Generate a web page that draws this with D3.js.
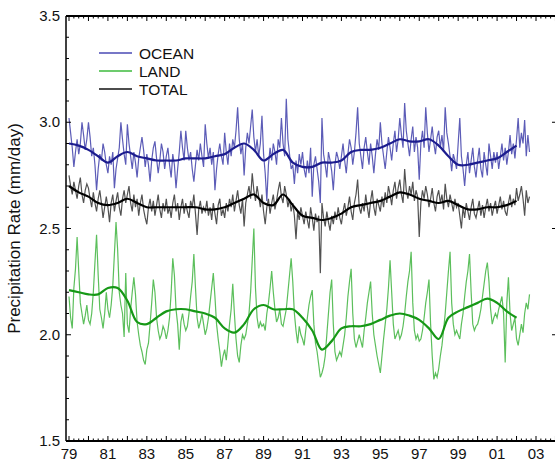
<!DOCTYPE html>
<html>
<head>
<meta charset="utf-8">
<script src="https://cdn.jsdelivr.net/npm/d3@7"></script>
<style>
  body { margin: 0; background: #fff; }
  text { font-family: "Liberation Sans", Arial, sans-serif; }
</style>
</head>
<body>
<svg id="chart" width="555" height="461"></svg>
<script>
// Monthly values, Jan 1979 .. Sep 2002 (mm/day)
const ocean = [
  3.02, 2.95, 2.88, 2.79, 2.86, 2.92, 2.85, 2.90, 3.00, 2.94, 2.87, 2.92,
  3.00, 2.93, 2.84, 2.88, 2.80, 2.68, 2.78, 2.85, 2.82, 2.90, 2.86, 2.80,
  2.76, 2.84, 2.80, 2.86, 2.69, 2.78, 2.83, 2.88, 3.00, 2.92, 2.85, 2.80,
  2.99, 2.90, 2.84, 2.78, 2.86, 2.81, 2.74, 2.83, 2.88, 2.93, 2.87, 2.79,
  2.85, 2.80, 2.72, 2.82, 2.88, 2.91, 2.83, 2.76, 2.82, 2.90, 2.86, 2.78,
  2.84, 2.88, 2.80, 2.74, 2.85, 2.80, 2.69, 2.78, 2.86, 2.96, 2.88, 2.82,
  2.96, 2.88, 2.82, 2.86, 2.78, 2.72, 2.80, 2.87, 2.82, 2.90, 2.84, 2.79,
  2.99, 2.90, 2.83, 2.88, 2.80, 2.86, 2.68, 2.78, 2.85, 2.90, 2.84, 2.80,
  2.95, 2.86, 2.80, 2.90, 2.84, 2.92, 2.88, 2.96, 3.07, 2.92, 2.85, 2.90,
  2.75, 2.88, 2.95, 2.90, 2.98, 3.06, 2.93, 2.86, 2.92, 2.84, 2.90, 3.03,
  2.85, 2.76, 2.63, 2.80, 2.88, 2.82, 2.90, 2.86, 2.80, 2.92, 2.88, 3.02,
  2.90, 2.84, 3.11, 2.92, 2.85, 2.78, 2.80, 2.71, 2.82, 2.76, 2.85, 2.80,
  2.86, 2.78, 2.74, 2.82, 2.76, 2.88, 2.65, 2.80, 2.84, 2.78, 2.72, 2.62,
  3.02, 2.85, 2.80, 2.74, 2.86, 2.82, 2.77, 2.68, 2.80, 2.86, 2.83, 2.78,
  2.84, 2.90, 2.82, 2.76, 2.85, 2.92, 2.88, 2.80, 2.86, 2.95, 3.07, 2.90,
  2.84, 2.78, 2.88, 2.93, 2.86, 2.80, 2.90, 2.84, 2.76, 2.85, 2.92, 2.87,
  3.00, 2.90, 2.84, 2.78, 2.86, 2.93, 2.88, 2.82, 2.90, 2.96, 2.86, 2.92,
  3.02, 2.94, 2.88, 3.09, 2.96, 2.90, 2.84, 2.92, 2.98, 2.86, 2.93, 2.88,
  2.73, 2.90, 2.96, 2.88, 3.07, 2.95, 2.86, 2.92, 2.98, 2.90, 2.85, 2.93,
  2.96, 2.88, 2.94, 2.86, 3.07, 2.95, 2.90, 2.84, 2.77, 2.85, 2.82, 2.78,
  2.90, 3.02, 2.84, 2.78, 2.70, 2.80, 2.86, 2.76, 2.82, 2.88, 2.79, 2.74,
  2.82, 2.88, 2.78, 2.74, 2.86, 2.80, 2.75, 2.90, 2.84, 2.78, 2.86, 2.81,
  2.86, 2.78, 2.84, 2.90, 2.82, 2.88, 2.80, 2.86, 2.94, 2.85, 2.90, 2.83,
  2.92, 3.02, 2.88, 2.95, 2.90, 3.01, 2.84, 2.94, 2.86
];
const land = [
  2.18, 2.08, 2.03, 2.22, 2.31, 2.46, 2.30, 2.15, 2.10, 2.05, 2.09, 2.14,
  2.07, 2.05, 2.10, 2.20, 2.34, 2.47, 2.28, 2.12, 2.08, 2.03, 2.10, 2.20,
  2.12, 2.08, 2.14, 2.23, 2.38, 2.53, 2.40, 2.20, 2.14, 2.10, 1.99, 2.29,
  2.05, 2.01, 2.12, 2.20, 2.27, 2.19, 2.06, 2.00, 1.95, 1.92, 1.88, 1.86,
  1.93, 1.96, 2.05, 2.15, 2.26, 2.20, 2.08, 2.02, 1.98, 2.00, 2.04, 2.02,
  1.98, 2.02, 2.08, 2.20, 2.36, 2.28, 2.12, 2.05, 1.93, 2.06, 2.10, 2.05,
  2.02, 2.04, 2.10, 2.18, 2.25, 2.38, 2.22, 2.08, 2.03, 2.06, 2.10, 2.05,
  2.00, 2.03, 2.08, 2.15, 2.22, 2.29, 2.18, 2.05, 1.98, 1.92, 1.85, 1.90,
  1.93, 1.88, 1.96, 2.05, 2.12, 2.24, 2.10, 1.98, 1.90, 1.87, 1.95, 2.00,
  1.98, 2.00, 2.05, 2.10, 2.20, 2.35, 2.50, 2.22, 2.08, 2.03, 2.06, 2.04,
  2.05, 2.02, 2.10, 2.15, 2.22, 2.30, 2.20, 2.12, 2.06, 2.08, 2.12, 2.05,
  2.04, 2.08, 2.12, 2.20, 2.28, 2.36, 2.25, 2.10, 2.02, 1.96, 2.04, 2.00,
  1.98, 1.95, 2.02, 2.08, 2.14, 2.18, 2.21, 2.05, 1.96, 1.92, 1.86, 1.80,
  1.82, 1.85, 1.90, 2.00, 2.10, 2.20, 2.26, 2.05, 1.92, 1.88, 1.90, 1.92,
  1.90, 1.95, 2.00, 2.08, 2.18, 2.25, 2.31, 2.10, 1.98, 1.94, 1.97, 2.00,
  1.97, 1.94, 2.02, 2.08, 2.15, 2.20, 2.25, 2.10, 2.00, 1.95, 1.90, 1.86,
  1.82, 1.90, 1.98, 2.05, 2.12, 2.22, 2.35, 2.20, 2.05, 1.98, 2.00, 2.02,
  1.98, 2.00, 2.04, 2.10, 2.18, 2.25, 2.30, 2.39, 2.15, 2.02, 1.98, 2.00,
  1.97, 1.98, 2.02, 2.08, 2.15, 2.20, 2.26, 2.05, 1.90, 1.79, 1.82, 1.80,
  1.84, 1.90, 1.95, 2.02, 2.10, 2.20, 2.30, 2.39, 2.15, 2.05, 2.00, 2.02,
  2.00, 1.98, 2.05, 2.10, 2.18, 2.25, 2.30, 2.38, 2.20, 2.05, 2.02, 2.04,
  2.05, 2.08, 2.12, 2.18, 2.24, 2.30, 2.34, 2.25, 2.12, 2.05, 2.08, 2.10,
  2.08, 2.12, 2.15, 2.18, 2.10, 1.87, 2.15, 2.27, 2.10, 2.02, 2.05, 2.08,
  1.98, 1.95, 2.00, 2.05, 2.01, 2.10, 2.15, 2.12, 2.19
];
const total = [
  2.75, 2.70, 2.66, 2.72, 2.68, 2.64, 2.70, 2.74, 2.66, 2.62, 2.68, 2.71,
  2.69, 2.64, 2.60, 2.67, 2.62, 2.58, 2.64, 2.68, 2.62, 2.55, 2.60, 2.65,
  2.60, 2.53, 2.62, 2.66, 2.58, 2.63, 2.67, 2.60, 2.56, 2.64, 2.68, 2.62,
  2.66, 2.70, 2.62, 2.58, 2.66, 2.60, 2.64, 2.56, 2.62, 2.66, 2.59, 2.55,
  2.52, 2.60, 2.64, 2.58, 2.63, 2.56, 2.61, 2.66, 2.59, 2.55, 2.62, 2.58,
  2.64, 2.57, 2.60, 2.55, 2.62, 2.66, 2.58, 2.62, 2.54, 2.60, 2.64, 2.57,
  2.62, 2.58, 2.55, 2.63, 2.60, 2.66, 2.57, 2.47, 2.59, 2.63, 2.57, 2.60,
  2.58, 2.63, 2.56, 2.60, 2.54, 2.62, 2.57, 2.52, 2.61, 2.64, 2.56, 2.59,
  2.55, 2.62, 2.58, 2.64, 2.60, 2.66, 2.58, 2.63, 2.68, 2.61, 2.57, 2.64,
  2.51, 2.62, 2.66, 2.70, 2.64, 2.76, 2.68, 2.63, 2.70, 2.65, 2.60, 2.66,
  2.58, 2.52, 2.60, 2.64, 2.57, 2.62, 2.66, 2.59, 2.63, 2.68, 2.72, 2.65,
  2.62, 2.70, 2.66, 2.60, 2.64, 2.58, 2.62, 2.56, 2.45, 2.58, 2.54, 2.60,
  2.56, 2.52, 2.58, 2.54, 2.50, 2.60, 2.55, 2.49, 2.57, 2.53, 2.56, 2.29,
  2.62, 2.55, 2.51, 2.58, 2.53, 2.49, 2.56, 2.52, 2.58, 2.54, 2.60, 2.55,
  2.52, 2.58, 2.62, 2.56, 2.60, 2.65, 2.58, 2.54, 2.62, 2.66, 2.73, 2.60,
  2.57, 2.62, 2.58, 2.66, 2.60, 2.55, 2.63, 2.68, 2.60, 2.56, 2.64, 2.61,
  2.58, 2.65, 2.60, 2.67, 2.62, 2.70, 2.66, 2.61, 2.68, 2.72, 2.64, 2.69,
  2.73, 2.66, 2.62, 2.78, 2.68, 2.64, 2.70, 2.66, 2.72, 2.63, 2.68, 2.65,
  2.46, 2.62, 2.68, 2.64, 2.70, 2.66, 2.60, 2.64, 2.69, 2.62, 2.58, 2.65,
  2.68, 2.62, 2.66, 2.59, 2.71, 2.64, 2.60, 2.66, 2.62, 2.58, 2.64, 2.60,
  2.62, 2.56, 2.50, 2.60, 2.55, 2.62, 2.58, 2.54, 2.60, 2.64, 2.57, 2.55,
  2.59, 2.63, 2.56, 2.61, 2.55, 2.60, 2.64, 2.58, 2.62, 2.56, 2.60, 2.63,
  2.57, 2.61, 2.65, 2.59, 2.63, 2.58, 2.56, 2.62, 2.66, 2.60, 2.64, 2.61,
  2.69, 2.63, 2.66, 2.70, 2.64, 2.56, 2.68, 2.62, 2.65
];

// Smoothed curves, read every half year from 1979.0 to 2002.0
const oceanSmooth = [
  2.90, 2.89, 2.87, 2.84, 2.81, 2.84, 2.86, 2.84, 2.83, 2.82,
  2.82, 2.82, 2.83, 2.83, 2.83, 2.84, 2.85, 2.88, 2.90, 2.87,
  2.82, 2.85, 2.87, 2.81, 2.79, 2.79, 2.81, 2.81, 2.82, 2.86,
  2.87, 2.87, 2.88, 2.90, 2.92, 2.91, 2.91, 2.92, 2.89, 2.84,
  2.80, 2.80, 2.81, 2.82, 2.83, 2.86, 2.89
];
const landSmooth = [
  2.21, 2.20, 2.19, 2.19, 2.22, 2.22, 2.16, 2.06, 2.05, 2.08,
  2.11, 2.12, 2.12, 2.11, 2.10, 2.08, 2.03, 2.01, 2.05, 2.12,
  2.14, 2.12, 2.12, 2.12, 2.08, 2.02, 1.93, 1.97, 2.03, 2.04,
  2.04, 2.05, 2.07, 2.09, 2.10, 2.09, 2.07, 2.03, 1.98, 2.08,
  2.11, 2.13, 2.15, 2.17, 2.15, 2.11, 2.08
];
const totalSmooth = [
  2.70, 2.67, 2.65, 2.62, 2.61, 2.62, 2.64, 2.62, 2.60, 2.60,
  2.60, 2.60, 2.60, 2.60, 2.59, 2.59, 2.60, 2.62, 2.64, 2.66,
  2.62, 2.61, 2.66, 2.61, 2.56, 2.55, 2.54, 2.55, 2.57, 2.60,
  2.61, 2.62, 2.63, 2.65, 2.67, 2.66, 2.64, 2.63, 2.62, 2.63,
  2.61, 2.59, 2.59, 2.60, 2.60, 2.61, 2.63
];

const yearLabels = ["79", "81", "83", "85", "87", "89", "91", "93", "95", "97", "99", "01", "03"];
const yLabels = [1.5, 2.0, 2.5, 3.0, 3.5];

const series = [
  { name: "LAND", raw: land, smooth: landSmooth, rawColor: "#40b440", color: "#169816" },
  { name: "TOTAL", raw: total, smooth: totalSmooth, rawColor: "#333333", color: "#000000" },
  { name: "OCEAN", raw: ocean, smooth: oceanSmooth, rawColor: "#4040aa", color: "#1c1c8e" }
];
const legendOrder = ["OCEAN", "LAND", "TOTAL"];
const legendColor = { OCEAN: "#4a4ab4", LAND: "#3cba3c", TOTAL: "#111" };

const svg = d3.select("#chart");
const frame = { left: 66, top: 16, bottom: 441, right: 555 };

const x = d3.scaleLinear().domain([1979, 2003]).range([69, 536]);
const y = d3.scaleLinear().domain([1.5, 3.5]).range([frame.bottom, frame.top]);

// raw + smoothed lines
const rawLine = d3.line()
  .x((d, i) => x(1979 + i / 12))
  .y(d => y(d));
const smoothLine = d3.line()
  .x((d, i) => x(1979 + i * 0.5))
  .y(d => y(d))
  .curve(d3.curveCatmullRom);

series.forEach(s => {
  svg.append("path")
    .attr("d", rawLine(s.raw))
    .attr("fill", "none")
    .attr("stroke", s.rawColor)
    .attr("stroke-width", 1.2)
    .attr("opacity", 0.85);
});
series.forEach(s => {
  svg.append("path")
    .attr("d", smoothLine(s.smooth))
    .attr("fill", "none")
    .attr("stroke", s.color)
    .attr("stroke-width", 2.2);
});

// frame: left, top and bottom axis lines
svg.append("line").attr("x1", frame.left).attr("x2", frame.left).attr("y1", frame.top).attr("y2", frame.bottom)
  .attr("stroke", "#000").attr("stroke-width", 1.5);
svg.append("line").attr("x1", frame.left).attr("x2", frame.right).attr("y1", frame.top).attr("y2", frame.top)
  .attr("stroke", "#000").attr("stroke-width", 2);
svg.append("line").attr("x1", frame.left).attr("x2", frame.right).attr("y1", frame.bottom).attr("y2", frame.bottom)
  .attr("stroke", "#000").attr("stroke-width", 2);

// x ticks (quarterly minor, yearly major) on top and bottom
const quarters = d3.range(1979, 2004.01, 0.25);
quarters.forEach(t => {
  const major = Math.abs(t - Math.round(t)) < 1e-6;
  const len = major ? 5 : 2.5;
  svg.append("line").attr("x1", x(t)).attr("x2", x(t))
    .attr("y1", frame.bottom).attr("y2", frame.bottom - len).attr("stroke", "#000").attr("stroke-width", 1);
  svg.append("line").attr("x1", x(t)).attr("x2", x(t))
    .attr("y1", frame.top).attr("y2", frame.top + len).attr("stroke", "#000").attr("stroke-width", 1);
});

// x labels
svg.append("g")
  .selectAll("text")
  .data(yearLabels)
  .join("text")
  .attr("x", (d, i) => x(1979 + 2 * i))
  .attr("y", 459)
  .attr("text-anchor", "middle")
  .attr("font-size", 15)
  .attr("fill", "#111")
  .text(d => d);

// y ticks
d3.range(1.5, 3.501, 0.1).forEach(v => {
  const major = Math.abs(v * 2 - Math.round(v * 2)) < 1e-6;
  svg.append("line").attr("x1", frame.left).attr("x2", frame.left + (major ? 5 : 3))
    .attr("y1", y(v)).attr("y2", y(v)).attr("stroke", "#000").attr("stroke-width", 1);
});
yLabels.slice(1, 4).forEach(v => {
  svg.append("line").attr("x1", frame.right - 3).attr("x2", frame.right)
    .attr("y1", y(v)).attr("y2", y(v)).attr("stroke", "#000").attr("stroke-width", 1);
});
svg.append("g")
  .selectAll("text")
  .data(yLabels)
  .join("text")
  .attr("x", 60)
  .attr("y", d => y(d) + 5)
  .attr("text-anchor", "end")
  .attr("font-size", 15)
  .attr("fill", "#111")
  .text(d => d.toFixed(1));

// y title
svg.append("text")
  .attr("transform", "translate(20," + y(2.5) + ") rotate(-90)")
  .attr("text-anchor", "middle")
  .attr("font-size", 17)
  .attr("fill", "#111")
  .text("Precipitation Rate (mm/day)");

// legend
legendOrder.forEach((name, i) => {
  const ly = 53 + i * 18;
  svg.append("line").attr("x1", 99).attr("x2", 132).attr("y1", ly).attr("y2", ly)
    .attr("stroke", legendColor[name]).attr("stroke-width", 1.5);
  svg.append("text").attr("x", 139).attr("y", ly + 6)
    .attr("font-size", 15.5).attr("fill", "#111").text(name);
});
</script>
</body>
</html>
